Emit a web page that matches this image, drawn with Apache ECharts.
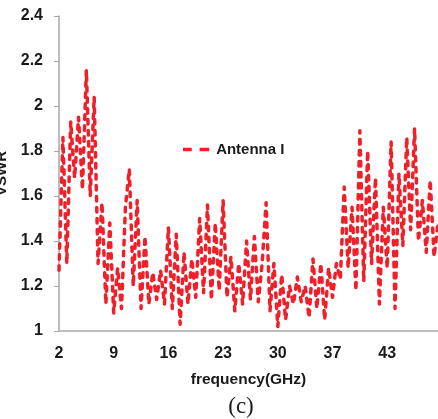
<!DOCTYPE html>
<html>
<head>
<meta charset="utf-8">
<script src="https://cdn.jsdelivr.net/npm/echarts@6/dist/echarts.min.js"></script>
<style>
html,body{margin:0;padding:0;background:#fff;}
#chart{width:438px;height:419px;}
</style>
</head>
<body>
<div id="chart"></div>
<script>
var seriesName = 'Antenna I';
var xTickValues = [2, 9, 16, 23, 30, 37, 44];
var xTickLabels = ['2', '9', '16', '23', '30', '37', '43'];
var freqGHz = [
  2.0, 2.5, 3.0, 3.5, 4.0, 4.5, 5.0, 5.5, 6.0, 6.5,
  7.0, 7.5, 8.0, 8.5, 9.0, 9.5, 10.0, 10.5, 11.0, 11.5,
  12.0, 12.5, 13.0, 13.5, 14.0, 14.5, 15.0, 15.5, 16.0, 16.5,
  17.0, 17.5, 18.0, 18.5, 19.0, 19.5, 20.0, 20.5, 21.0, 21.5,
  22.0, 22.5, 23.0, 23.5, 24.0, 24.5, 25.0, 25.5, 26.0, 26.5,
  27.0, 27.5, 28.0, 28.5, 29.0, 29.5, 30.0, 30.5, 31.0, 31.5,
  32.0, 32.5, 33.0, 33.5, 34.0, 34.5, 35.0, 35.5, 36.0, 36.5,
  37.0, 37.5, 38.0, 38.5, 39.0, 39.5, 40.0, 40.5, 41.0, 41.5,
  42.0, 42.5, 43.0, 43.5, 44.0, 44.5, 45.0, 45.5, 46.0, 46.5,
  47.0, 47.5, 48.0, 48.5, 49.0, 49.5, 50.0, 50.5
];
var vswr = [
  1.27, 1.86, 1.30, 1.93, 1.68, 1.95, 1.63, 2.16, 1.60, 2.04,
  1.30, 1.57, 1.12, 1.48, 1.08, 1.28, 1.10, 1.55, 1.72, 1.20,
  1.58, 1.10, 1.42, 1.12, 1.26, 1.14, 1.27, 1.12, 1.46, 1.10,
  1.43, 1.03, 1.35, 1.12, 1.32, 1.15, 1.50, 1.17, 1.56, 1.14,
  1.48, 1.18, 1.58, 1.15, 1.33, 1.09, 1.30, 1.12, 1.40, 1.14,
  1.42, 1.13, 1.30, 1.57, 1.09, 1.30, 1.02, 1.25, 1.05, 1.20,
  1.12, 1.24, 1.13, 1.20, 1.06, 1.32, 1.10, 1.30, 1.05, 1.28,
  1.15, 1.30, 1.23, 1.64, 1.28, 1.55, 1.18, 1.89, 1.22, 1.80,
  1.30, 1.68, 1.12, 1.55, 1.28, 1.84, 1.10, 1.70, 1.38, 1.86,
  1.45, 1.90, 1.40, 1.58, 1.35, 1.67, 1.33, 1.48
];

var chart = echarts.init(document.getElementById('chart'), null, {renderer: 'canvas'});
var fam = 'Liberation Sans, Arial, sans-serif';
var labelFont = {fontFamily: fam, fontWeight: 'bold', fontSize: 16, color: '#1a1a1a'};
var lineColor = '#F0202A';

chart.setOption({
  animation: false,
  backgroundColor: '#ffffff',
  grid: {left: 59, right: 0, top: 16, bottom: 88, containLabel: false, outerBoundsMode: 'none'},
  legend: {
    data: [{name: seriesName, icon: 'path://M0,0H10V4H0Z M19,0H30V4H19Z'}],
    left: 178, top: 137,
    itemWidth: 30, itemHeight: 3.5, itemGap: 4,
    itemStyle: {color: lineColor},
    textStyle: {fontFamily: fam, fontWeight: 'bold', fontSize: 15, color: '#1a1a1a'}
  },
  xAxis: {
    type: 'value', min: 2, max: 50.5,
    name: 'frequency(GHz)', nameLocation: 'middle', nameGap: 41,
    nameTextStyle: {fontFamily: fam, fontWeight: 'bold', fontSize: 15.5, color: '#1a1a1a'},
    axisLine: {show: true, lineStyle: {color: '#bdbdbd', width: 2}},
    axisTick: {show: false},
    splitLine: {show: false},
    axisLabel: Object.assign({
      margin: 15,
      customValues: xTickValues,
      formatter: function (v) {
        var i = xTickValues.indexOf(v);
        return i >= 0 ? xTickLabels[i] : '';
      }
    }, labelFont)
  },
  yAxis: {
    type: 'value', min: 1, max: 2.4, interval: 0.2,
    name: 'VSWR', nameLocation: 'middle', nameGap: 39, nameRotate: 90,
    nameTextStyle: {fontFamily: fam, fontWeight: 'bold', fontSize: 15, color: '#1a1a1a'},
    axisLine: {show: true, lineStyle: {color: '#a6a6a6', width: 1.5}},
    axisTick: {show: true, inside: false, length: 5, lineStyle: {color: '#a6a6a6', width: 1}},
    splitLine: {show: false},
    axisLabel: Object.assign({margin: 16}, labelFont)
  },
  series: [{
    name: seriesName,
    type: 'line',
    data: freqGHz.map(function (f, i) { return [f, vswr[i]]; }),
    showSymbol: false,
    symbol: 'none',
    smooth: false,
    lineStyle: {color: lineColor, width: 3.5, type: [4.5, 6.5], cap: 'round', join: 'round'},
    itemStyle: {color: lineColor}
  }],
  graphic: [{
    type: 'text', x: 241, y: 407,
    style: {text: '(c)', font: '23px "Liberation Serif", "Times New Roman", serif', fill: '#1a1a1a', textAlign: 'center', textVerticalAlign: 'middle'}
  }]
});
</script>
</body>
</html>
